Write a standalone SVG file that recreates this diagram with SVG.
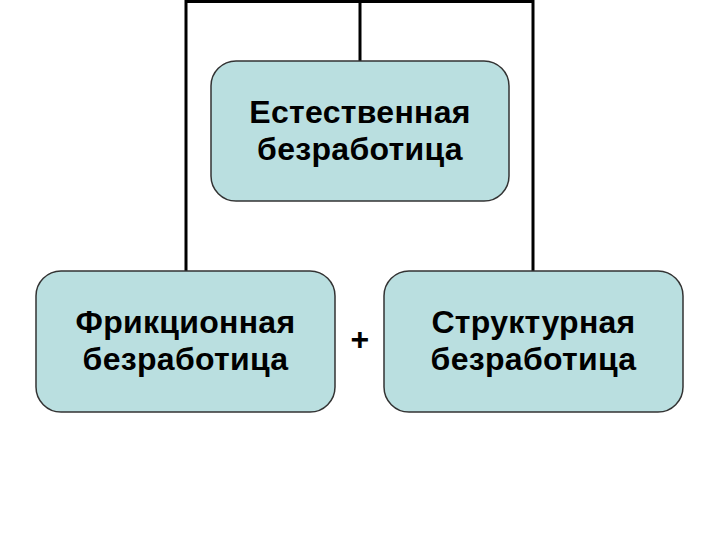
<svg xmlns="http://www.w3.org/2000/svg" width="720" height="540" viewBox="0 0 720 540">
<style>
.box{fill:#badfe0;stroke:#333;stroke-width:1.5}
.lbl{font-family:"Liberation Sans",Arial,sans-serif;font-weight:bold;font-size:32px;letter-spacing:0.3px;fill:#000;text-anchor:middle}
.conn{fill:none;stroke:#000;stroke-width:3}
</style>
<rect width="720" height="540" fill="#fff"/>
<g id="connectors">
<path class="conn" d="M186,271 V1.5 H533 V271"/>
<path class="conn" d="M360,1.5 V61"/>
</g>
<g id="natural">
<rect class="box" x="211" y="61" width="298" height="140" rx="25"/>
<text class="lbl" x="360" y="123">Естественная</text>
<text class="lbl" x="360" y="160">безработица</text>
</g>
<g id="frictional">
<rect class="box" x="36" y="271" width="299" height="141" rx="25"/>
<text class="lbl" x="185.5" y="333">Фрикционная</text>
<text class="lbl" x="185.5" y="370">безработица</text>
</g>
<g id="structural">
<rect class="box" x="384" y="271" width="299" height="141" rx="25"/>
<text class="lbl" x="533.5" y="333">Структурная</text>
<text class="lbl" x="533.5" y="370">безработица</text>
</g>
<g id="plus">
<text class="lbl" x="360" y="350">+</text>
</g>
</svg>
